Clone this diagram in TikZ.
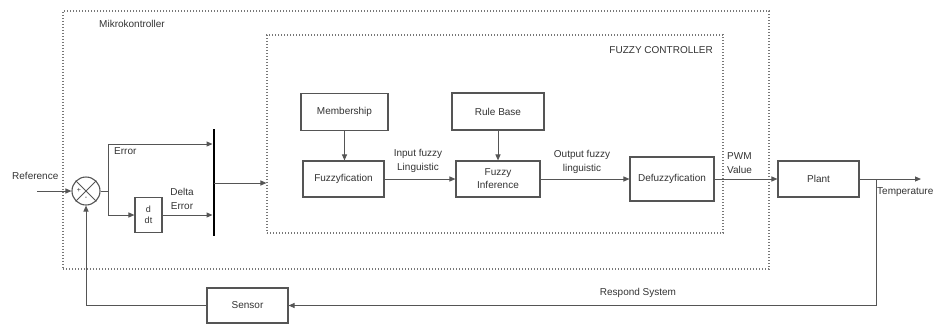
\documentclass[tikz,border=0pt]{standalone}
\usepackage{fontspec}
\setmainfont{Liberation Sans}
\usetikzlibrary{arrows.meta,calc}
\definecolor{ink}{HTML}{333333}
\definecolor{edge}{HTML}{555555}
\definecolor{dots}{HTML}{777777}
\tikzset{
  blk/.style={draw=edge,line width=1.1pt,fill=white,inner sep=1pt,align=center,text=ink,font=\fontsize{10}{13}\selectfont},
  lbl/.style={text=ink,font=\fontsize{10}{14}\selectfont,inner sep=0pt,align=center},
  conn/.style={draw=edge,line width=1pt},
  arr/.style={conn,-{Triangle[length=6pt,width=5pt]}},
  dotbox/.style={draw=dots,line width=1.1pt,dash pattern=on 1.3pt off 1.7pt},
}
\begin{document}
\begin{tikzpicture}[x=1pt,y=-1pt]
\useasboundingbox (0,0) rectangle (937,325);
% outer and inner dotted boxes
\node[dotbox,minimum width=706,minimum height=258,inner sep=0] (mk) at (416,140) {};
\node[dotbox,minimum width=456,minimum height=198,inner sep=0] (fc) at (495,134) {};
\node[lbl,anchor=west] (mktxt) at (99,24) {Mikrokontroller};
\node[lbl,anchor=east] (fctxt) at (713,50) {FUZZY CONTROLLER};
% blocks
\node[blk,minimum width=87,minimum height=37] (memb) at (344.5,112) {Membership};
\node[blk,minimum width=92,minimum height=37] (rule) at (498,111.5) {Rule Base};
\node[blk,minimum width=81,minimum height=36] (fuzz) at (343.5,179) {Fuzzyfication};
\node[blk,minimum width=84,minimum height=36] (inf) at (498,179) {Fuzzy\\Inference};
\node[blk,minimum width=84,minimum height=44] (defuzz) at (672,179) {Defuzzyfication};
\node[blk,minimum width=81,minimum height=36] (plant) at (818.5,179) {Plant};
\node[blk,minimum width=81,minimum height=35] (sensor) at (247.5,305.5) {Sensor};
\node[blk,minimum width=27,minimum height=35,inner sep=0pt,font=\fontsize{9}{11}\selectfont] (ddt) at (148.5,215) {d\\dt};
% summing junction
\node[draw=edge,line width=1.1pt,circle,minimum size=28,inner sep=0] (sum) at (86,191) {};
\draw[edge,line width=0.9pt] (sum.north west) -- (sum.south east) (sum.north east) -- (sum.south west);
\node[lbl,font=\fontsize{7}{8}\selectfont] (plus) at ($(sum.center)+(-7,-1)$) {+};
\node[lbl,font=\fontsize{7}{8}\selectfont] (minus) at ($(sum.center)+(0,7)$) {-};
% mux bar
\node[fill=black,minimum width=2.6,minimum height=107,inner sep=0] (bar) at (214,182.5) {};
% coordinates
\coordinate (refin) at (37,191);
\coordinate (br) at (108,191);
\coordinate (e1) at (108,144);
\coordinate (e2) at (108,215);
\coordinate (bo) at (214,183);
\coordinate (out) at (921,179);
\coordinate (tb) at (876,179);
% connectors
\draw[arr] (refin) -- (sum.west);
\draw[conn] (sum.east) -- (br);
\draw[arr] (br) -- (e1) -- (e1 -| bar.west);
\draw[arr] (br) -- (e2) -- (ddt.west);
\draw[arr] (ddt.east) -- (ddt.east -| bar.west);
\draw[arr] (bo) -- (bo -| fc.west);
\draw[arr] (memb.south) -- (memb.south |- fuzz.north);
\draw[arr] (rule.south) -- (rule.south |- inf.north);
\draw[arr] (fuzz.east) -- (inf.west);
\draw[arr] (inf.east) -- (defuzz.west);
\draw[arr] (defuzz.east) -- (plant.west);
\draw[arr] (plant.east) -- (out);
\draw[arr] (tb) |- (sensor.east);
\draw[arr] (sensor.west) -| (sum.south);
% labels
\node[lbl,anchor=west] (reftxt) at (12,176) {Reference};
\node[lbl,anchor=west] (errtxt) at (114,151) {Error};
\node[lbl] (dettxt) at (182,199) {Delta\\Error};
\node[lbl] (inptxt) at (418,161) {Input fuzzy\\Linguistic};
\node[lbl] (outtxt) at (582,162) {Output fuzzy\\linguistic};
\node[lbl,anchor=west,align=left] (pwmtxt) at (727,163) {PWM\\Value};
\node[lbl,anchor=west] (temptxt) at (877,192) {Temperature};
\node[lbl] (resptxt) at (638,293) {Respond System};
\end{tikzpicture}
\end{document}
